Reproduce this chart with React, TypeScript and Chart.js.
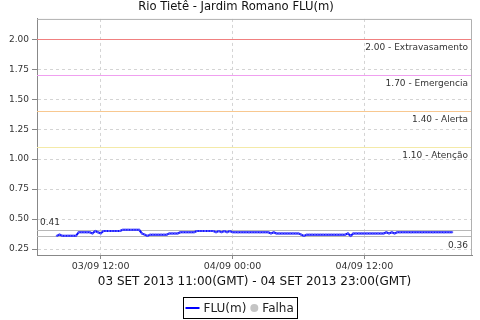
import React, { useEffect, useRef } from "react";
import { Chart, registerables } from "chart.js";

Chart.register(...registerables);

const chartTitle = "Rio Tietê - Jardim Romano FLU(m)";
const xAxisTitle = "03 SET 2013 11:00(GMT) - 04 SET 2013 23:00(GMT)";

// readings every 15 minutes, local time (hours counted from 03/09 00:00)
const startHour = 8;
const stepHours = 0.25;
const fluValues = [
  // 08:00 - 09:45
  0.36, 0.37, 0.36, 0.36, 0.36, 0.36, 0.36, 0.36,
  // 10:00 - 11:45
  0.39, 0.39, 0.39, 0.39, 0.39, 0.38, 0.40, 0.39,
  // 12:00 - 13:45
  0.38, 0.40, 0.40, 0.40, 0.40, 0.40, 0.40, 0.40,
  // 14:00 - 15:45
  0.41, 0.41, 0.41, 0.41, 0.41, 0.41, 0.41, 0.38,
  // 16:00 - 17:45
  0.37, 0.36, 0.37, 0.37, 0.37, 0.37, 0.37, 0.37,
  // 18:00 - 19:45
  0.37, 0.38, 0.38, 0.38, 0.38, 0.39, 0.39, 0.39,
  // 20:00 - 21:45
  0.39, 0.39, 0.39, 0.40, 0.40, 0.40, 0.40, 0.40,
  // 22:00 - 23:45
  0.40, 0.40, 0.39, 0.40, 0.39, 0.40, 0.39, 0.40,
  // 04/09 00:00 - 01:45
  0.39, 0.39, 0.39, 0.39, 0.39, 0.39, 0.39, 0.39,
  // 02:00 - 03:45
  0.39, 0.39, 0.39, 0.39, 0.39, 0.39, 0.38, 0.39,
  // 04:00 - 05:45
  0.38, 0.38, 0.38, 0.38, 0.38, 0.38, 0.38, 0.38,
  // 06:00 - 07:45
  0.38, 0.37, 0.36, 0.37, 0.37, 0.37, 0.37, 0.37,
  // 08:00 - 09:45
  0.37, 0.37, 0.37, 0.37, 0.37, 0.37, 0.37, 0.37,
  // 10:00 - 11:45
  0.37, 0.37, 0.38, 0.36, 0.38, 0.38, 0.38, 0.38,
  // 12:00 - 13:45
  0.38, 0.38, 0.38, 0.38, 0.38, 0.38, 0.38, 0.38,
  // 14:00 - 15:45
  0.39, 0.38, 0.39, 0.38, 0.39, 0.39, 0.39, 0.39,
  // 16:00 - 17:45
  0.39, 0.39, 0.39, 0.39, 0.39, 0.39, 0.39, 0.39,
  // 18:00 - 19:45
  0.39, 0.39, 0.39, 0.39, 0.39, 0.39, 0.39, 0.39,
  // 20:00
  0.39,
];

const xTickHours = [12, 24, 36];
const xTickLabels = ["03/09 12:00", "04/09 00:00", "04/09 12:00"];
const yTickValues = [0.25, 0.5, 0.75, 1.0, 1.25, 1.5, 1.75, 2.0];
const xRange = [6.2, 45.8];
const yRange = [0.2, 2.17];

const thresholdValues = [2.0, 1.7, 1.4, 1.1];
const thresholdNames = ["Extravasamento", "Emergencia", "Alerta", "Atenção"];
const thresholdColors = ["#f08080", "#f0a0f0", "#f8c890", "#f4eaa8"];

const legendLabels = ["FLU(m)", "Falha"];

const FONT = '"DejaVu Sans", sans-serif';

const overlayPlugin = {
  id: "overlay",
  beforeDatasetsDraw(chart: any) {
    const { ctx, chartArea: a, scales } = chart;
    const y = scales.y;
    ctx.save();
    ctx.lineWidth = 1;
    ctx.font = `9px ${FONT}`;
    thresholdValues.forEach((v, i) => {
      const py = Math.round(y.getPixelForValue(v)) + 0.5;
      ctx.strokeStyle = thresholdColors[i];
      ctx.beginPath();
      ctx.moveTo(a.left, py);
      ctx.lineTo(a.right, py);
      ctx.stroke();
      ctx.fillStyle = "#333";
      ctx.textAlign = "right";
      ctx.textBaseline = "middle";
      ctx.fillText(`${v.toFixed(2)} - ${thresholdNames[i]}`, a.right - 4, py + 8);
    });
    const maxV = Math.max(...fluValues);
    const minV = Math.min(...fluValues);
    const pMax = Math.round(y.getPixelForValue(maxV)) + 0.5;
    const pMin = Math.round(y.getPixelForValue(minV)) + 0.5;
    ctx.strokeStyle = "#b8b8b8";
    ctx.beginPath();
    ctx.moveTo(a.left, pMax);
    ctx.lineTo(a.right, pMax);
    ctx.moveTo(a.left, pMin);
    ctx.lineTo(a.right, pMin);
    ctx.stroke();
    ctx.fillStyle = "#333";
    ctx.textAlign = "left";
    ctx.fillText(maxV.toFixed(2), a.left + 3, pMax - 8);
    ctx.textAlign = "right";
    ctx.fillText(minV.toFixed(2), a.right - 4, pMin + 9);
    ctx.restore();
  },
  afterDraw(chart: any) {
    const { ctx, chartArea: a, width } = chart;
    ctx.save();
    ctx.strokeStyle = "#b0b0b0";
    ctx.lineWidth = 1;
    ctx.beginPath();
    ctx.moveTo(a.left, a.top + 0.5);
    ctx.lineTo(a.right - 0.5, a.top + 0.5);
    ctx.lineTo(a.right - 0.5, a.bottom);
    ctx.stroke();

    // legend
    ctx.font = `12px ${FONT}`;
    const w1 = ctx.measureText(legendLabels[0]).width;
    const w2 = ctx.measureText(legendLabels[1]).width;
    const padL = 2, lineW = 14, gap = 4, sep = 4, dot = 8, padR = 4;
    const total = padL + lineW + gap + w1 + sep + dot + gap + w2 + padR;
    const bx = Math.round(width / 2 - total / 2) + 0.5;
    const by = 297.5;
    const bh = 21;
    ctx.strokeStyle = "#000";
    ctx.strokeRect(bx, by, Math.round(total), bh);
    const cy = by + bh / 2;
    let x = bx + padL;
    ctx.strokeStyle = "#0000ff";
    ctx.lineWidth = 2;
    ctx.beginPath();
    ctx.moveTo(x, cy);
    ctx.lineTo(x + lineW, cy);
    ctx.stroke();
    x += lineW + gap;
    ctx.fillStyle = "#222";
    ctx.textAlign = "left";
    ctx.textBaseline = "middle";
    ctx.fillText(legendLabels[0], x, cy + 0.5);
    x += w1 + sep;
    ctx.fillStyle = "#c4c4c4";
    ctx.beginPath();
    ctx.arc(x + dot / 2, cy, dot / 2, 0, Math.PI * 2);
    ctx.fill();
    x += dot + gap;
    ctx.fillStyle = "#222";
    ctx.fillText(legendLabels[1], x, cy + 0.5);
    ctx.restore();
  },
};

export default function App() {
  const ref = useRef<HTMLCanvasElement | null>(null);

  useEffect(() => {
    if (!ref.current) return;
    const points = fluValues.map((v, i) => ({ x: startHour + i * stepHours, y: v }));
    const chart = new Chart(ref.current, {
      type: "line",
      data: {
        datasets: [
          {
            label: legendLabels[0],
            data: points,
            borderColor: "#0a0aff",
            borderWidth: 2,
            pointRadius: 1.3,
            pointStyle: "rect",
            pointBackgroundColor: "#5a5aff",
            pointBorderColor: "#5a5aff",
            pointBorderWidth: 0,
            fill: false,
            tension: 0,
          },
        ],
      },
      options: {
        responsive: false,
        animation: false,
        devicePixelRatio: 1,
        layout: { padding: { left: 0, right: 8, top: 0, bottom: 31 } },
        plugins: {
          legend: { display: false },
          tooltip: { enabled: false },
          title: {
            display: true,
            text: chartTitle,
            color: "#111",
            font: { family: FONT, size: 11.6, weight: "normal" },
            padding: { top: 0, bottom: 5 },
          },
        },
        scales: {
          x: {
            type: "linear",
            min: xRange[0],
            max: xRange[1],
            afterBuildTicks: (s: any) => {
              s.ticks = xTickHours.map((v) => ({ value: v }));
            },
            afterFit: (s: any) => {
              s.height = 34;
            },
            ticks: {
              autoSkip: false,
              maxRotation: 0,
              padding: 2,
              color: "#333",
              font: { family: FONT, size: 9.5 },
              callback: (v: any) => {
                const i = xTickHours.indexOf(Number(v));
                return i >= 0 ? xTickLabels[i] : "";
              },
            },
            grid: {
              color: "#d4d4d4",
              tickColor: "#888",
              tickLength: 4,
              drawTicks: true,
            },
            border: { color: "#888", dash: [3, 3] },
            title: {
              display: true,
              text: xAxisTitle,
              color: "#111",
              font: { family: FONT, size: 12 },
              padding: { top: 0, bottom: 0 },
            },
          },
          y: {
            type: "linear",
            min: yRange[0],
            max: yRange[1],
            afterBuildTicks: (s: any) => {
              s.ticks = yTickValues.map((v) => ({ value: v }));
            },
            afterFit: (s: any) => {
              s.width = 37;
            },
            ticks: {
              padding: 3,
              color: "#333",
              font: { family: FONT, size: 9 },
              callback: (v: any) => Number(v).toFixed(2),
            },
            grid: {
              color: "#d4d4d4",
              tickColor: "#888",
              tickLength: 5,
              drawTicks: true,
            },
            border: { color: "#888", dash: [3, 3] },
          },
        },
      },
      plugins: [overlayPlugin],
    } as any);
    return () => chart.destroy();
  }, []);

  return (
    <div style={{ position: "fixed", left: 0, top: 0, width: 480, height: 320, background: "#fff" }}>
      <canvas ref={ref} width={480} height={320} style={{ display: "block" }} />
    </div>
  );
}
